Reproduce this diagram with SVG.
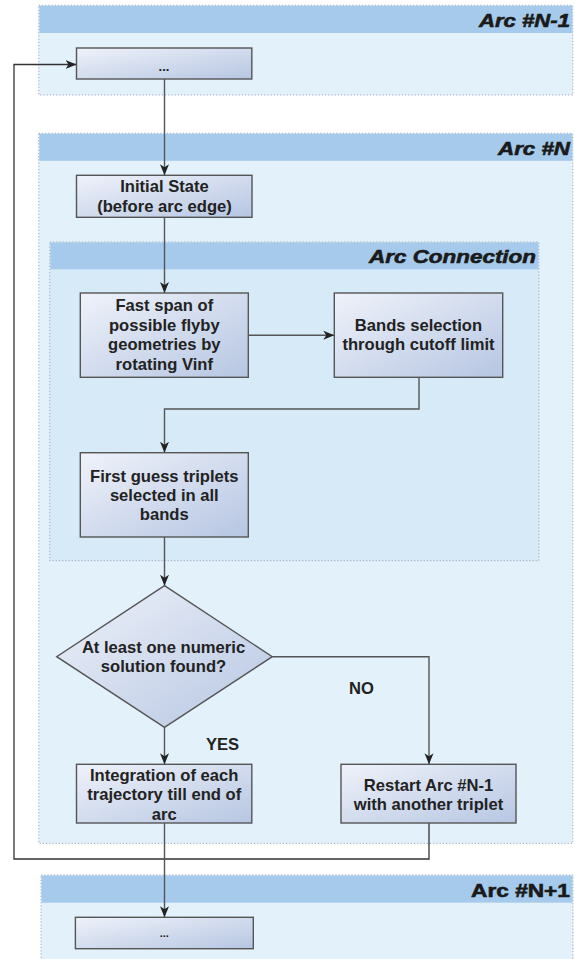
<svg xmlns="http://www.w3.org/2000/svg" width="574" height="959" viewBox="0 0 574 959">
<defs>
<linearGradient id="g" x1="0" y1="0" x2="1" y2="1">
<stop offset="0" stop-color="#eff2fa"/>
<stop offset="1" stop-color="#b6c6e2"/>
</linearGradient>
<marker id="arr" markerUnits="userSpaceOnUse" markerWidth="12" markerHeight="10" refX="11" refY="5" orient="auto">
<path d="M0,0.5 L11,5 L0,9.5 L3,5 z" fill="#222"/>
</marker>
<style>
.body{fill:#e3f1fb;stroke:#9aa6bd;stroke-width:1;stroke-dasharray:1.2 2}
.body2{fill:#d6eaf8;stroke:#9aa6bd;stroke-width:1;stroke-dasharray:1.2 2}
.hdr{fill:#a5caeb}
.node{fill:url(#g);stroke:#555;stroke-width:1.4}
.t{font-family:"Liberation Sans",Arial,sans-serif;font-weight:bold;font-size:16.6px;fill:#222;text-anchor:middle}
.h{font-family:"Liberation Sans",Arial,sans-serif;font-weight:bold;font-style:italic;font-size:19px;fill:#1a1a1a;stroke:#1a1a1a;stroke-width:0.6;text-anchor:end}
.c{fill:none;stroke:#555;stroke-width:1.4}
.c2{fill:none;stroke:#333;stroke-width:1.3}
</style>
</defs>
<rect width="574" height="959" fill="#ffffff"/>

<g id="arc-n-1">
<rect class="body" x="38.8" y="5.3" width="534" height="89.7"/>
<rect class="hdr" x="39.3" y="5.8" width="533" height="27.2"/>
<text class="h" x="570" y="26.5" textLength="91" lengthAdjust="spacingAndGlyphs">Arc #N-1</text>
</g>

<g id="arc-n">
<rect class="body" x="38.8" y="133.3" width="534" height="710"/>
<rect class="hdr" x="39.3" y="133.8" width="533" height="27"/>
<text class="h" x="570" y="155" textLength="72" lengthAdjust="spacingAndGlyphs">Arc #N</text>
</g>

<g id="arc-connection">
<rect class="body2" x="49.8" y="242" width="489" height="318.7"/>
<rect class="hdr" x="50.3" y="242.5" width="488" height="26.8"/>
<text class="h" x="536" y="263" textLength="167" lengthAdjust="spacingAndGlyphs">Arc Connection</text>
</g>

<g id="arc-n1">
<rect class="body" x="41" y="875" width="532" height="95"/>
<rect class="hdr" x="41.5" y="875.5" width="531" height="27.2"/>
<text class="h" x="570" y="896.5" style="font-style:normal" textLength="99" lengthAdjust="spacingAndGlyphs">Arc #N+1</text>
</g>

<g id="connectors">
<path class="c2" d="M429,823 V859 H14 V64.5 H76.5" marker-end="url(#arr)"/>
<path class="c" d="M164.5,79 V175.3" marker-end="url(#arr)"/>
<path class="c" d="M164.5,217.3 V293" marker-end="url(#arr)"/>
<path class="c" d="M248.3,335.3 H334.3" marker-end="url(#arr)"/>
<path class="c" d="M419,377.3 V409 H164.5 V452.7" marker-end="url(#arr)"/>
<path class="c" d="M164.5,537 V585.7" marker-end="url(#arr)"/>
<path class="c" d="M164.5,727.3 V764.3" marker-end="url(#arr)"/>
<path class="c" d="M272.3,656.7 H429 V764.3" marker-end="url(#arr)"/>
<path class="c" d="M164.5,823 V917.3" marker-end="url(#arr)"/>
<text class="t" x="361.5" y="694">NO</text>
<text class="t" x="222.5" y="750">YES</text>
</g>

<g id="node-prev">
<rect class="node" x="76.5" y="48" width="175.3" height="31"/>
<text class="t" x="164" y="71" style="font-size:13px">...</text>
</g>

<g id="node-initial">
<rect class="node" x="76.5" y="175.3" width="175.5" height="42"/>
<text class="t" x="164.5" y="192">Initial State</text>
<text class="t" x="164.5" y="211.7">(before arc edge)</text>
</g>

<g id="node-fastspan">
<rect class="node" x="80.3" y="293" width="168" height="84.3"/>
<text class="t" x="164.3" y="310.5">Fast span of</text>
<text class="t" x="164.3" y="330.5">possible flyby</text>
<text class="t" x="164.3" y="350">geometries by</text>
<text class="t" x="164.3" y="369.5">rotating Vinf</text>
</g>

<g id="node-bands">
<rect class="node" x="334.3" y="293" width="168.4" height="84.3"/>
<text class="t" x="418.5" y="330.5">Bands selection</text>
<text class="t" x="418.5" y="350">through cutoff limit</text>
</g>

<g id="node-firstguess">
<rect class="node" x="80.3" y="452.7" width="168" height="84.3"/>
<text class="t" x="164.3" y="481.5">First guess triplets</text>
<text class="t" x="164.3" y="501">selected in all</text>
<text class="t" x="164.3" y="520">bands</text>
</g>

<g id="node-decision">
<polygon class="node" points="164.5,585.7 272.3,656.7 164.5,727.3 56.7,656.7"/>
<text class="t" x="163.5" y="652.5">At least one numeric</text>
<text class="t" x="163.5" y="672">solution found?</text>
</g>

<g id="node-integration">
<rect class="node" x="76.5" y="764.3" width="175.3" height="58.7"/>
<text class="t" x="164.2" y="780.5">Integration of each</text>
<text class="t" x="164.2" y="800">trajectory till end of</text>
<text class="t" x="164.2" y="819.5">arc</text>
</g>

<g id="node-restart">
<rect class="node" x="341" y="764.3" width="175" height="58.7"/>
<text class="t" x="428.5" y="790.5">Restart Arc #N-1</text>
<text class="t" x="428.5" y="809.5">with another triplet</text>
</g>

<g id="node-next">
<rect class="node" x="75.4" y="917.3" width="177.9" height="31.4"/>
<text class="t" x="164.3" y="937" style="font-size:11px">...</text>
</g>
</svg>
